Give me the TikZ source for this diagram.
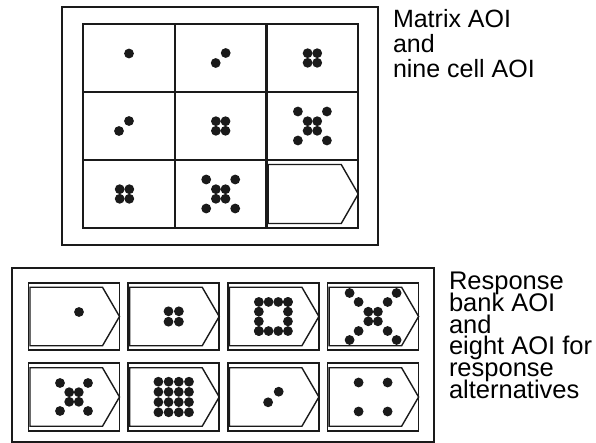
\documentclass[tikz,border=0pt]{standalone}
\usepackage{fontspec}
\setmainfont{Liberation Sans}
\usetikzlibrary{positioning}
\definecolor{aoiink}{HTML}{1A1A1A}

\tikzset{
  pics/single/.style={code={\fill[aoiink] (0,0) circle[radius=4.9pt];}},
  pics/pair/.style={code={\fill[aoiink] (-#1,#1) circle[radius=4.9pt] (#1,-#1) circle[radius=4.9pt];}},
  pics/quad/.style={code={\foreach \i in {-1,1} \foreach \j in {-1,1} \fill[aoiink] (\i*#1,\j*#1) circle[radius=4.9pt];}},
  pics/smallx/.style={code={\foreach \i in {-1,1} \foreach \j in {-1,1} \fill[aoiink] (\i*4.8,\j*4.8) circle[radius=4.9pt] (\i*#1,\j*#1) circle[radius=4.9pt];}},
  pics/bigx/.style={code={\foreach \i in {-1,1} \foreach \j in {-1,1} \fill[aoiink] (\i*4.8,\j*4.8) circle[radius=4.9pt] (\i*14.5,\j*14.5) circle[radius=4.9pt] (\i*23.5,\j*23.5) circle[radius=4.9pt];}},
  pics/ring/.style={code={\foreach \i in {-1.5,-0.5,0.5,1.5} \foreach \j in {-1.5,1.5} \fill[aoiink] (\i*9.7,\j*9.7) circle[radius=4.9pt] (\j*9.7,\i*9.7) circle[radius=4.9pt];}},
  pics/block/.style={code={\foreach \i in {-1.5,-0.5,0.5,1.5} \foreach \j in {-1.5,-0.5,0.5,1.5} \fill[aoiink] (\i*10.2,\j*10.2) circle[radius=4.9pt];}}
}

\newcommand{\aoitag}[1]{\draw[tagline] ([xshift=1.5pt,yshift=-4.5pt]#1.north west) -- ([xshift=-17pt,yshift=-4.5pt]#1.north east) -- (#1.east) -- ([xshift=-17pt,yshift=4.5pt]#1.south east) -- ([xshift=1.5pt,yshift=4.5pt]#1.south west) -- cycle;}
\newcommand{\banktext}{\fontsize{25.5}{21.8}\selectfont\lineskiplimit=-20pt\relax}

\begin{document}
\begin{tikzpicture}[x=1pt, y=-1pt, node distance=0pt and 8.7pt, every node/.style={inner sep=0pt, outer sep=0pt}, cell/.style={draw=aoiink, line width=2.2pt, minimum width=91.7pt, minimum height=68pt}, option/.style={draw=aoiink, line width=1.6pt, minimum width=91pt, minimum height=67.5pt}, frame/.style={draw=aoiink, line width=1.8pt}, tagline/.style={draw=aoiink, line width=1.4pt, line join=miter}, caption/.style={align=left, anchor=north west}]
\useasboundingbox (0,0) rectangle (596,443);
\draw[frame] (62,7) rectangle (378,245);
\node[cell] (c11) at (129,58) {};
\node[cell, right=0pt of c11] (c12) {};
\node[cell, right=0pt of c12] (c13) {};
\node[cell, below=0pt of c11] (c21) {};
\node[cell, right=0pt of c21] (c22) {};
\node[cell, right=0pt of c22] (c23) {};
\node[cell, below=0pt of c21] (c31) {};
\node[cell, right=0pt of c31] (c32) {};
\node[cell, right=0pt of c32] (c33) {};
\pic at ([yshift=4.5pt]c11.center) {single};
\pic at (c12) {pair=5};
\pic at (c13) {quad=4.8};
\pic at ([xshift=-5pt]c21.center) {pair=5};
\pic at (c22) {quad=4.8};
\pic at (c23) {smallx=14.5};
\pic at ([xshift=-4.5pt]c31.center) {quad=4.8};
\pic at (c32) {smallx=14.5};
\aoitag{c33}
\node[caption, font=\fontsize{25}{25}\selectfont] (matrix) at (393,9) {Matrix AOI\\and\\nine cell AOI};

\draw[frame] (12,268) rectangle (434,442);
\node[option] (b1) at (74,316.5) {};
\node[option, right=of b1] (b2) {};
\node[option, right=of b2] (b3) {};
\node[option, right=of b3] (b4) {};
\node[option, below=13pt of b1] (b5) {};
\node[option, right=of b5] (b6) {};
\node[option, right=of b6] (b7) {};
\node[option, right=of b7] (b8) {};
\foreach \b in {b1,b2,b3,b4,b5,b6,b7,b8} {\aoitag{\b}}
\pic at ([xshift=5pt,yshift=4.5pt]b1.center) {single};
\pic at (b2) {quad=5.2};
\pic at (b3) {ring};
\pic at (b4) {bigx};
\pic at (b5) {smallx=14};
\pic at (b6) {block};
\pic at (b7) {pair=5.3};
\pic at (b8) {quad=14.5};
\node[caption, font=\banktext] (bank) at (449,272) {Response\\bank AOI\\and\\eight AOI for\\response\\alternatives};
\end{tikzpicture}
\end{document}
